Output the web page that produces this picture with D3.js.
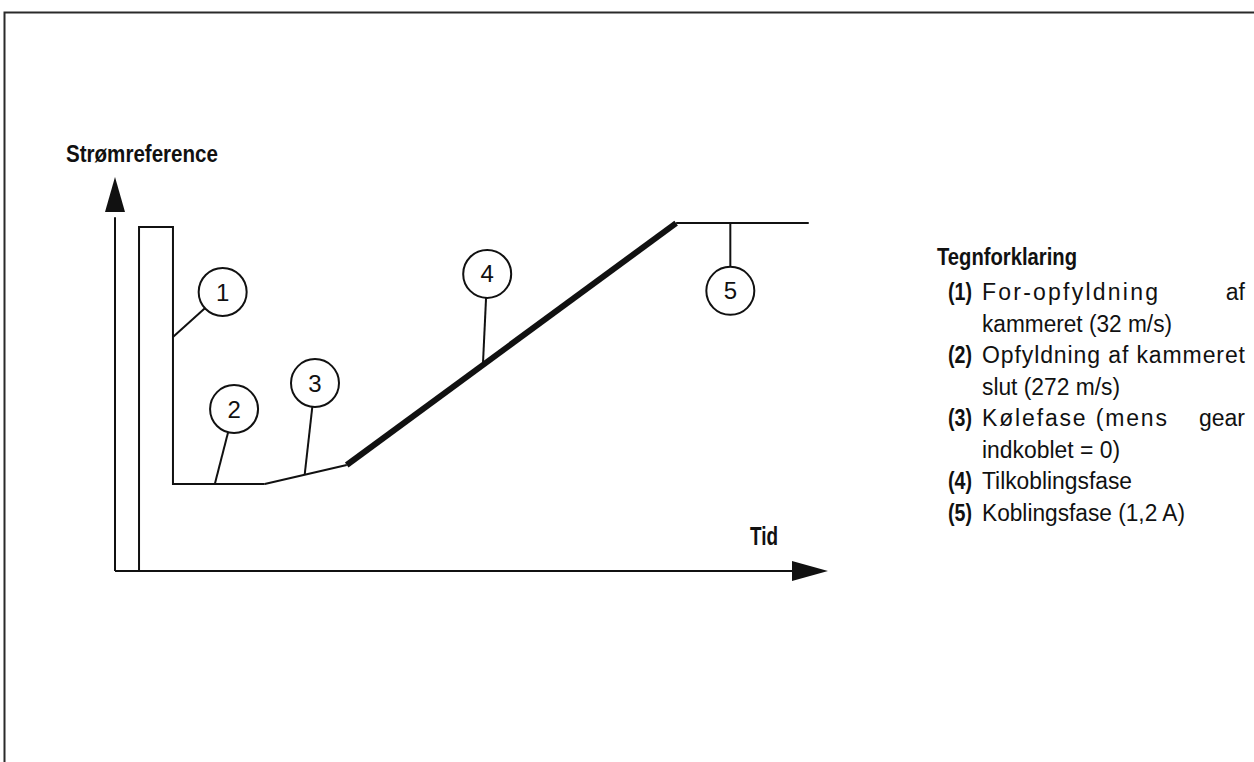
<!DOCTYPE html>
<html>
<head>
<meta charset="utf-8">
<script src="https://cdn.jsdelivr.net/npm/d3@7"></script>
<style>
  body { margin: 0; background: #fff; }
  svg { display: block; }
</style>
</head>
<body>
<div class="svg-container"></div>
<script>
// signal: time (0-100) vs current reference (0-100)
var prefillT = [3.37, 3.37, 8.13, 8.13, 21.0];
var prefillV = [0, 87.3, 87.3, 22.1, 22.1];
var coolT = [21.0, 32.5];
var coolV = [22.1, 26.9];
var rampT = [32.5, 78.7];
var rampV = [26.9, 88.3];
var holdT = [78.7, 97.3];
var holdV = [88.3, 88.3];

// callouts
var calloutLabels = ["1", "2", "3", "4", "5"];
var calloutT = [15.1, 16.7, 28.05, 52.2, 86.3];
var calloutV = [70.8, 41.1, 47.7, 75.4, 71.1];
var targetT = [8.13, 14.0, 26.6, 51.6, 86.3];
var targetV = [59.4, 22.1, 24.4, 52.3, 88.3];

var yTitle = "Strømreference";
var xTitle = "Tid";
var legendTitle = "Tegnforklaring";
var legendNums = ["(1)", "(2)", "(3)", "(4)", "(5)"];
var legendText = [
    ["For-opfyldning", "af", "kammeret (32 m/s)"],
    ["Opfyldning af kammeret", "", "slut (272 m/s)"],
    ["Kølefase (mens", "gear", "indkoblet = 0)"],
    ["Tilkoblingsfase", "", ""],
    ["Koblingsfase (1,2 A)", "", ""]
];

var w = 1254, h = 762;
var canvas = d3.select(".svg-container").append("svg")
    .attr("width", w).attr("height", h)
    .attr("viewBox", "0 0 " + w + " " + h);

var x = d3.scaleLinear().domain([0, 100]).range([115, 828]);
var y = d3.scaleLinear().domain([0, 100]).range([571, 177]);

var line = d3.line()
    .x(function(d) { return x(d[0]); })
    .y(function(d) { return y(d[1]); });

function zipTV(t, v) { return t.map(function(d, i) { return [d, v[i]]; }); }

var font = "Liberation Sans, Arial, sans-serif";

// frame
canvas.append("path")
    .attr("d", "M4.5,762 L4.5,12.5 L1254,12.5")
    .attr("fill", "none").attr("stroke", "#2a2a2a").attr("stroke-width", 2);

// axes
var ax = canvas.append("g").attr("stroke", "#111").attr("stroke-width", 2).attr("fill", "none");
ax.append("path").attr("d", line([[0, 0], [0, 89.8]]));
ax.append("path").attr("d", line([[0, 0], [95, 0]]));
canvas.append("path")
    .attr("d", "M" + x(0) + "," + y(100) + " L" + (x(0) - 10) + "," + (y(100) + 35) + " L" + (x(0) + 10) + "," + (y(100) + 35) + " Z")
    .attr("fill", "#111");
canvas.append("path")
    .attr("d", "M" + x(100) + "," + y(0) + " L" + (x(100) - 36) + "," + (y(0) - 10) + " L" + (x(100) - 36) + "," + (y(0) + 10) + " Z")
    .attr("fill", "#111");

// signal
var sig = canvas.append("g").attr("fill", "none").attr("stroke", "#111")
    .attr("stroke-linejoin", "miter");
sig.append("path").attr("d", line(zipTV(prefillT, prefillV))).attr("stroke-width", 2);
sig.append("path").attr("d", line(zipTV(coolT, coolV))).attr("stroke-width", 2);
sig.append("path").attr("d", line(zipTV(holdT, holdV))).attr("stroke-width", 2);
sig.append("path").attr("d", line(zipTV(rampT, rampV))).attr("stroke-width", 6);

// callouts
var r = 24;
calloutLabels.forEach(function(lab, i) {
    var cx = x(calloutT[i]), cy = y(calloutV[i]);
    var tx = x(targetT[i]), ty = y(targetV[i]);
    var dx = tx - cx, dy = ty - cy, len = Math.sqrt(dx * dx + dy * dy);
    canvas.append("line")
        .attr("x1", cx + dx / len * r).attr("y1", cy + dy / len * r)
        .attr("x2", tx).attr("y2", ty)
        .attr("stroke", "#111").attr("stroke-width", 2);
    canvas.append("circle")
        .attr("cx", cx).attr("cy", cy).attr("r", r)
        .attr("fill", "#fff").attr("stroke", "#111").attr("stroke-width", 2);
    canvas.append("text")
        .attr("x", cx).attr("y", cy + 8.5)
        .attr("text-anchor", "middle")
        .attr("font-family", font)
        .attr("font-size", 24).attr("fill", "#111")
        .text(lab);
});

// titles
function boldText(txt, tx, ty, size, width) {
    return canvas.append("text")
        .attr("x", tx).attr("y", ty)
        .attr("font-family", font)
        .attr("font-weight", "bold").attr("font-size", size)
        .attr("textLength", width).attr("lengthAdjust", "spacingAndGlyphs")
        .attr("fill", "#111")
        .text(txt);
}
boldText(yTitle, 66, 162, 24, 152);
boldText(xTitle, 750, 545, 25, 28);
boldText(legendTitle, 937, 265, 23, 140);

// legend
function plainText(txt, tx, ty, width, adjust) {
    var t = canvas.append("text")
        .attr("x", tx).attr("y", ty)
        .attr("font-family", font)
        .attr("font-size", 23).attr("fill", "#111")
        .text(txt);
    if (width) t.attr("textLength", width).attr("lengthAdjust", adjust);
    return t;
}
var lx0 = 948, lx1 = 982, lx2 = 1245, row0 = 300, rowH = 31.5;
// [first line width, adjust, second line width]
var legendWidths = [[176, "spacing", 190], [263, "spacing", 138], [185, "spacing", 138], [150, "spacingAndGlyphs", 0], [203, "spacingAndGlyphs", 0]];
var row = 0;
legendNums.forEach(function(num, i) {
    var by = row0 + row * rowH;
    boldText(num, lx0, by, 24, 24);
    var t = legendText[i];
    plainText(t[0], lx1, by, legendWidths[i][0], legendWidths[i][1]);
    if (t[1]) {
        plainText(t[1], lx2, by, 0).attr("text-anchor", "end");
    }
    row++;
    if (t[2]) {
        plainText(t[2], lx1, row0 + row * rowH, legendWidths[i][2], "spacingAndGlyphs");
        row++;
    }
});
</script>
</body>
</html>
